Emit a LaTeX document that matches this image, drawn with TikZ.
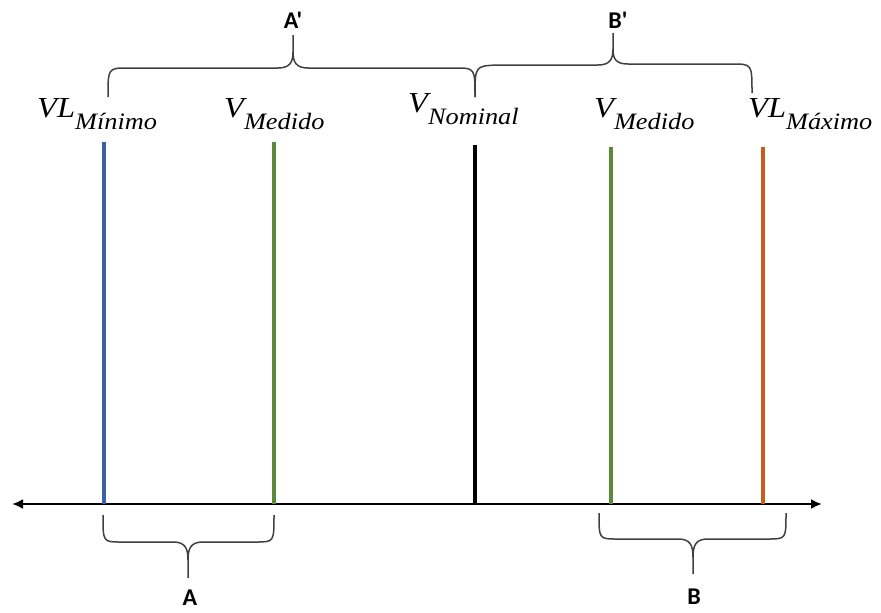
\documentclass[tikz,border=0pt]{standalone}
\usepackage{fontspec}
\newfontfamily\lblfont{Carlito}
\newfontfamily\mathlike{Liberation Serif Italic}[FakeStretch=1.12]
\usetikzlibrary{arrows.meta}
\definecolor{cblue}{RGB}{60,94,164}
\definecolor{cgreen}{RGB}{92,138,60}
\definecolor{corange}{RGB}{200,92,28}
\definecolor{cbrace}{RGB}{64,64,64}
\newcommand\mainpart[1]{{\mathlike\fontsize{29}{32}\selectfont #1}}
\newcommand\subpart[1]{\raisebox{-12pt}{\mathlike\fontsize{23.5}{26}\selectfont #1}}
\tikzset{
  vline/.style={line width=4pt},
  axisline/.style={line width=2.6pt, {Latex[length=11pt,width=10pt]}-{Latex[length=11pt,width=10pt]}},
  bracepath/.style={draw=cbrace, line width=1.5pt},
  vlabel/.style={anchor=base west, inner sep=0pt},
  letter/.style={inner sep=0pt, font=\lblfont\bfseries\fontsize{24}{26}\selectfont}
}
\begin{document}
\begin{tikzpicture}[x=1pt,y=-1pt]
\useasboundingbox (0,0) rectangle (881,613);
% axis
\coordinate (axL) at (12,504);
\coordinate (axR) at (822,504);
\draw[axisline] (axL) -- (axR);
% vertical lines
\coordinate (b1) at (104,142); \coordinate (b0) at (104,504);
\coordinate (g1) at (274,142); \coordinate (g0) at (274,504);
\coordinate (k1) at (475,145); \coordinate (k0) at (475,504);
\coordinate (h1) at (611,147); \coordinate (h0) at (611,504);
\coordinate (o1) at (763,147); \coordinate (o0) at (763,504);
\draw[vline, cblue] (b1) -- (b0);
\draw[vline, cgreen] (g1) -- (g0);
\draw[vline, black] (k1) -- (k0);
\draw[vline, cgreen] (h1) -- (h0);
\draw[vline, corange] (o1) -- (o0);
% labels
\node[vlabel] (lmin) at (37,117) {\mainpart{VL}\subpart{Mínimo}};
\node[vlabel] (lmed1) at (224,117) {\mainpart{V}\subpart{Medido}};
\node[vlabel] (lnom) at (408,112) {\mainpart{V}\subpart{Nominal}};
\node[vlabel] (lmed2) at (594,117) {\mainpart{V}\subpart{Medido}};
\node[vlabel] (lmax) at (748,117) {\mainpart{VL}\subpart{Máximo}};
% braces
\draw[bracepath] (108,97) .. controls (108,68) .. (128,68) -- (278,68)
  .. controls (290,68) and (293,62) .. (293,52) -- (293,35)
  (293,52) .. controls (293,62) and (296,68) .. (308,68) -- (455,68)
  .. controls (475,68) .. (475,97);
\draw[bracepath] (475,97) .. controls (475,66) .. (497,65) -- (598,65)
  .. controls (610,65) and (613,59) .. (613,49) -- (613,33)
  (613,49) .. controls (613,59) and (616,64) .. (628,64) -- (732,64)
  .. controls (752,64) .. (752,93);
\draw[bracepath] (103,515) .. controls (103,542) .. (121,542) -- (173,542)
  .. controls (185,542) and (188,548) .. (188,560) -- (188,578)
  (188,560) .. controls (188,548) and (191,542) .. (203,542) -- (256,542)
  .. controls (274,542) .. (274,515);
\draw[bracepath] (599,513) .. controls (599,539) .. (617,539) -- (678,539)
  .. controls (690,539) and (693,545) .. (693,557) -- (693,574)
  (693,557) .. controls (693,545) and (696,539) .. (708,539) -- (768,539)
  .. controls (786,539) .. (786,513);
% letters
\node[letter] (ap) at (293,20) {A'};
\node[letter] (bp) at (618,20) {B'};
\node[letter] (a) at (190,598) {A};
\node[letter] (b) at (694,597) {B};
\end{tikzpicture}
\end{document}
